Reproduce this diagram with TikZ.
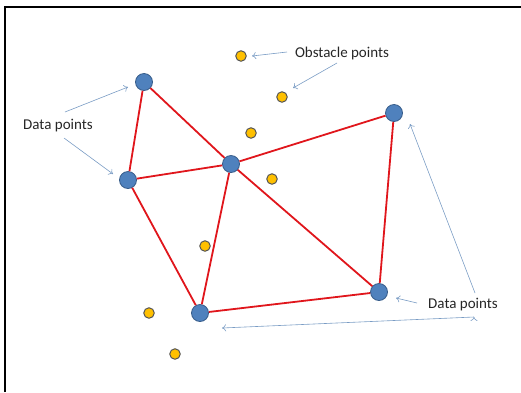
\documentclass[tikz,border=0pt]{standalone}
\usepackage{fontspec}
\setmainfont{Carlito}
\usetikzlibrary{arrows.meta}
\definecolor{datablue}{HTML}{4F81BD}
\definecolor{databorder}{HTML}{385D8A}
\definecolor{obstyellow}{HTML}{FFC000}
\definecolor{obstborder}{HTML}{555555}
\definecolor{linkred}{HTML}{E0161C}
\definecolor{pointerblue}{HTML}{7A9CC4}

\begin{document}
\begin{tikzpicture}[x=1pt,y=-1pt,
		datapt/.style={circle, fill=datablue, draw=databorder, line width=0.8pt, minimum size=17pt, inner sep=0pt},
		obstpt/.style={circle, fill=obstyellow, draw=obstborder, line width=1pt, minimum size=10.5pt, inner sep=0pt},
		link/.style={draw=linkred, line width=1.8pt},
		pointer/.style={draw=pointerblue, line width=0.6pt, -{To[length=4pt, width=7pt]}},
		lbl/.style={font=\fontsize{15}{18}\selectfont, text=black!85, inner sep=0pt}]
		\useasboundingbox (0,0) rectangle (521,392);
		\draw[line width=2.5pt] (5,392) -- (5,7) -- (521,7);
		
		% data points
		\node[datapt] (A) at (144,82) {};
		\node[datapt] (B) at (128,180) {};
		\node[datapt] (C) at (231,164) {};
		\node[datapt] (D) at (394,113) {};
		\node[datapt] (E) at (379,292) {};
		\node[datapt] (F) at (200,313) {};
		
		% obstacle points
		\node[obstpt] (O1) at (241,56) {};
		\node[obstpt] (O2) at (282,97) {};
		\node[obstpt] (O3) at (251,133) {};
		\node[obstpt] (O4) at (272,179) {};
		\node[obstpt] (O5) at (205,246) {};
		\node[obstpt] (O6) at (149,313) {};
		\node[obstpt] (O7) at (175,354) {};
		
		\path[link]
		(A) edge (B)
		(A) edge (C)
		(B) edge (C)
		(B) edge (F)
		(C) edge (F)
		(C) edge (D)
		(C) edge (E)
		(D) edge (E)
		(E) edge (F);
		
		% labels
		\node[lbl] (obstlbl) at (342,53) {Obstacle points};
		\node[lbl] (dataleft) at (58,126) {Data points};
		\node[lbl] (dataright) at (463,305) {Data points};
		
		\coordinate (o1s) at (287,52);  \coordinate (o1e) at (252,56);
		\coordinate (o2s) at (337,63);  \coordinate (o2e) at (293,88);
		\coordinate (l1s) at (65,112);  \coordinate (l1e) at (128,87);
		\coordinate (l2s) at (64,138);  \coordinate (l2e) at (113,174);
		\coordinate (r1s) at (417,303); \coordinate (r1e) at (396,298);
		\coordinate (r2s) at (475,293); \coordinate (r2e) at (410,124);
		\coordinate (r3s) at (474,317); \coordinate (r3e) at (222,328);
		
		\path[pointer]
		(o1s) edge (o1e)
		(o2s) edge (o2e)
		(l1s) edge (l1e)
		(l2s) edge (l2e)
		(r1s) edge (r1e)
		(r2s) edge (r2e)
		(r3s) edge (r3e);
	\end{tikzpicture}
\end{document}
